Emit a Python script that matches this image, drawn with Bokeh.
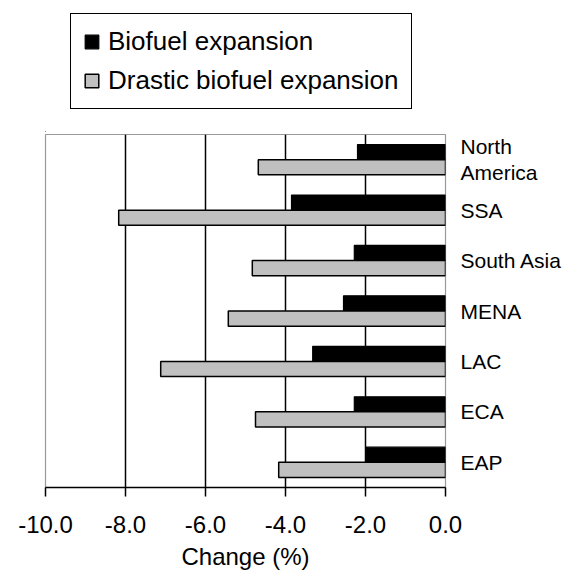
from bokeh.plotting import figure
from bokeh.models import (Range1d, LinearAxis, FixedTicker, PrintfTickFormatter,
                          Legend, LegendItem, ColumnDataSource)
from bokeh.layouts import column
from bokeh.transform import dodge
from bokeh.embed import file_html
from bokeh.resources import INLINE

regions = ["North\nAmerica", "SSA", "South Asia", "MENA", "LAC", "ECA", "EAP"]
biofuel = [-2.2, -3.85, -2.28, -2.55, -3.32, -2.28, -1.98]
drastic = [-4.68, -8.17, -4.83, -5.43, -7.12, -4.75, -4.17]
x_ticks = [-10, -8, -6, -4, -2, 0]
series_names = ["Biofuel expansion", "Drastic biofuel expansion"]

pos = list(range(len(regions)))
src = ColumnDataSource(dict(y=pos, bio=biofuel, dra=drastic))

FONT = "Liberation Sans"
BLACK_STYLE = dict(fill_color="black", line_color="black", line_width=1.2)
GRAY_STYLE = dict(fill_color="#c0c0c0", line_color="black", line_width=1.5)

TOP_H = 132
p = figure(width=579, height=587 - TOP_H, output_backend="svg", toolbar_location=None,
           x_range=Range1d(-10, 0), y_range=Range1d(len(regions) - 0.5, -0.5),
           y_axis_location=None, min_border_left=45, min_border_right=134,
           min_border_top=2, min_border_bottom=100)
p.background_fill_color = "white"
p.border_fill_color = "white"
p.outline_line_color = "#999999"
p.outline_line_width = 1.2

# grid
p.ygrid.visible = False
p.xgrid.ticker = FixedTicker(ticks=[-8, -6, -4, -2])
p.xgrid.grid_line_color = "black"
p.xgrid.grid_line_width = 1.5

bh = 0.3
r1 = p.hbar(y=dodge("y", -bh / 2, range=p.y_range), right=0, left="bio", height=bh,
            source=src, **BLACK_STYLE)
r2 = p.hbar(y=dodge("y", bh / 2, range=p.y_range), right=0, left="dra", height=bh,
            source=src, **GRAY_STYLE)

# x axis
xa = p.xaxis[0]
xa.ticker = FixedTicker(ticks=x_ticks)
xa.formatter = PrintfTickFormatter(format="%.1f")
xa.minor_tick_line_color = None
xa.major_tick_in = 0
xa.major_tick_out = 9
xa.major_tick_line_color = "black"
xa.major_tick_line_width = 1.5
xa.axis_line_color = "black"
xa.axis_line_width = 1.5
xa.major_label_text_font = FONT
xa.major_label_text_font_size = "24px"
xa.major_label_text_color = "black"
xa.major_label_standoff = 19
xa.axis_label = "Change (%)"
xa.axis_label_text_font = FONT
xa.axis_label_text_font_size = "24px"
xa.axis_label_text_font_style = "normal"
xa.axis_label_text_color = "black"
xa.axis_label_standoff = 7

# right category axis
ra = LinearAxis(ticker=FixedTicker(ticks=pos),
                major_label_overrides={i: r for i, r in enumerate(regions)})
ra.axis_line_color = None
ra.major_tick_line_color = None
ra.minor_tick_line_color = None
ra.major_label_standoff = 9
ra.major_label_text_font = FONT
ra.major_label_text_font_size = "21px"
ra.major_label_text_color = "black"
ra.major_label_text_line_height = 1.15
p.add_layout(ra, "right")

# legend figure on top (its bars lie outside its visible ranges; only the legend shows)
lf = figure(width=579, height=TOP_H, output_backend="svg", toolbar_location=None,
            x_range=Range1d(100, 101), y_range=Range1d(100, 101),
            x_axis_location=None, y_axis_location=None,
            min_border=0, min_border_left=0, min_border_right=0,
            min_border_top=0, min_border_bottom=0)
lf.outline_line_color = None
lf.grid.visible = False
lf.background_fill_color = "white"
lf.border_fill_color = "white"
l1 = lf.hbar(y="y", right=0, left="bio", height=bh, source=src, **BLACK_STYLE)
l2 = lf.hbar(y="y", right=0, left="dra", height=bh, source=src, **GRAY_STYLE)

legend = Legend(items=[LegendItem(label=series_names[0], renderers=[l1]),
                       LegendItem(label=series_names[1], renderers=[l2])],
                location=(25, TOP_H - 109))
legend.border_line_color = "black"
legend.border_line_alpha = 1
legend.border_line_width = 1.5
legend.background_fill_color = "white"
legend.background_fill_alpha = 1
legend.label_text_font = FONT
legend.label_text_font_size = "26px"
legend.label_text_color = "black"
legend.glyph_width = 17
legend.glyph_height = 17
legend.label_height = 30
legend.label_standoff = 8
legend.spacing = 8
legend.padding = 12
legend.margin = 0
lf.add_layout(legend, "center")

layout = column(lf, p, spacing=0)
open("out.html", "w").write(file_html(layout, INLINE))
